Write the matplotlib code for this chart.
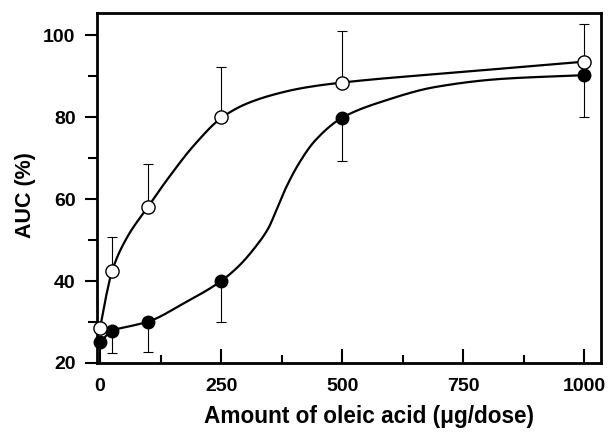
import numpy as np
import matplotlib
matplotlib.use("Agg")
import matplotlib.pyplot as plt
from matplotlib.ticker import MultipleLocator

# measured points (AUC %) vs oleic acid dose
dose = [0, 25, 100, 250, 500, 1000]
auc_open = [28.5, 42.4, 58.0, 80.0, 88.5, 93.6]
err_open_up = [0.0, 8.3, 10.5, 12.2, 12.5, 9.1]
auc_filled = [25.0, 27.9, 30.0, 40.0, 79.9, 90.3]
err_filled_down = [0.0, 5.5, 7.3, 10.0, 10.5, 10.1]

# fitted curves
fit_open_x = [0, 12, 25, 55, 100, 140, 195, 250, 300, 360, 420, 500, 760, 1000]
fit_open_y = [28.5, 36.0, 42.5, 50.5, 58.3, 65.0, 73.3, 79.8, 83.2, 85.6, 87.2, 88.5,
              91.2, 93.6]
fit_filled_x = [0, 25, 60, 100, 172, 250, 286, 320, 348, 365, 382, 410, 444, 500, 589,
                692, 830, 1000]
fit_filled_y = [25.0, 27.9, 28.9, 30.1, 34.5, 40.0, 43.6, 48.2, 53.0, 57.6, 62.3, 68.6,
                74.3, 79.9, 84.1, 87.4, 89.4, 90.3]


def pchip(x, y, xs):
    # monotone cubic, just for drawing the traced curve smoothly
    x = np.asarray(x, float)
    y = np.asarray(y, float)
    h = np.diff(x)
    d = np.diff(y) / h
    m = np.zeros_like(y)
    for k in range(1, len(x) - 1):
        if d[k - 1] * d[k] > 0:
            w1 = 2 * h[k] + h[k - 1]
            w2 = h[k] + 2 * h[k - 1]
            m[k] = (w1 + w2) / (w1 / d[k - 1] + w2 / d[k])
    m[0] = d[0]
    m[-1] = d[-1]
    idx = np.clip(np.searchsorted(x, xs) - 1, 0, len(h) - 1)
    t = (xs - x[idx]) / h[idx]
    h00 = 2 * t**3 - 3 * t**2 + 1
    h10 = t**3 - 2 * t**2 + t
    h01 = -2 * t**3 + 3 * t**2
    h11 = t**3 - t**2
    return h00 * y[idx] + h10 * h[idx] * m[idx] + h01 * y[idx + 1] + h11 * h[idx] * m[idx + 1]


plt.rcParams["font.family"] = ["Liberation Sans", "DejaVu Sans"]
plt.rcParams["font.weight"] = "bold"

fig = plt.figure(figsize=(6.11, 4.32), dpi=100)
ax = fig.add_axes([0.159, 0.16, 0.825, 0.81])

xs = np.linspace(0, 1000, 1000)
ax.plot(xs, pchip(fit_open_x, fit_open_y, xs), color="black", lw=1.6, zorder=2)
ax.plot(xs, pchip(fit_filled_x, fit_filled_y, xs), color="black", lw=1.6, zorder=2)

ax.errorbar(dose, auc_open, yerr=[np.zeros(len(dose)), err_open_up], fmt="none",
            ecolor="black", elinewidth=0.8, capsize=3.3, capthick=0.8, zorder=1)
ax.errorbar(dose, auc_filled, yerr=[err_filled_down, np.zeros(len(dose))], fmt="none",
            ecolor="black", elinewidth=0.8, capsize=3.3, capthick=0.8, zorder=1)

ax.plot(dose, auc_filled, "o", ms=9, mfc="black", mec="black", mew=1, zorder=3, clip_on=False)
ax.plot(dose, auc_open, "o", ms=9.5, mfc="white", mec="black", mew=1, zorder=4, clip_on=False)

ax.set_xlim(-6, 1035)
ax.set_ylim(20, 105.5)
ax.set_xticks([0, 250, 500, 750, 1000])
ax.xaxis.set_minor_locator(MultipleLocator(125))
ax.set_yticks([20, 40, 60, 80, 100])
ax.yaxis.set_minor_locator(MultipleLocator(10))

ax.tick_params(axis="x", which="major", direction="in", length=10, width=1.5, pad=11, labelsize=14)
ax.tick_params(axis="x", which="minor", direction="in", length=6, width=1.5)
ax.tick_params(axis="y", which="major", direction="out", length=9, width=1.5, pad=6.5, labelsize=14)
ax.tick_params(axis="y", which="minor", direction="out", length=6.5, width=1.5)

for s in ax.spines.values():
    s.set_linewidth(2)

ax.set_xlabel("Amount of oleic acid (\u03bcg/dose)", fontsize=16.3, fontweight="bold")
ax.set_ylabel("AUC (%)", fontsize=15.5, fontweight="bold")
ax.xaxis.set_label_coords(0.54, -0.12)
ax.yaxis.set_label_coords(-0.122, 0.48)

fig.savefig("out.png", dpi=100)
